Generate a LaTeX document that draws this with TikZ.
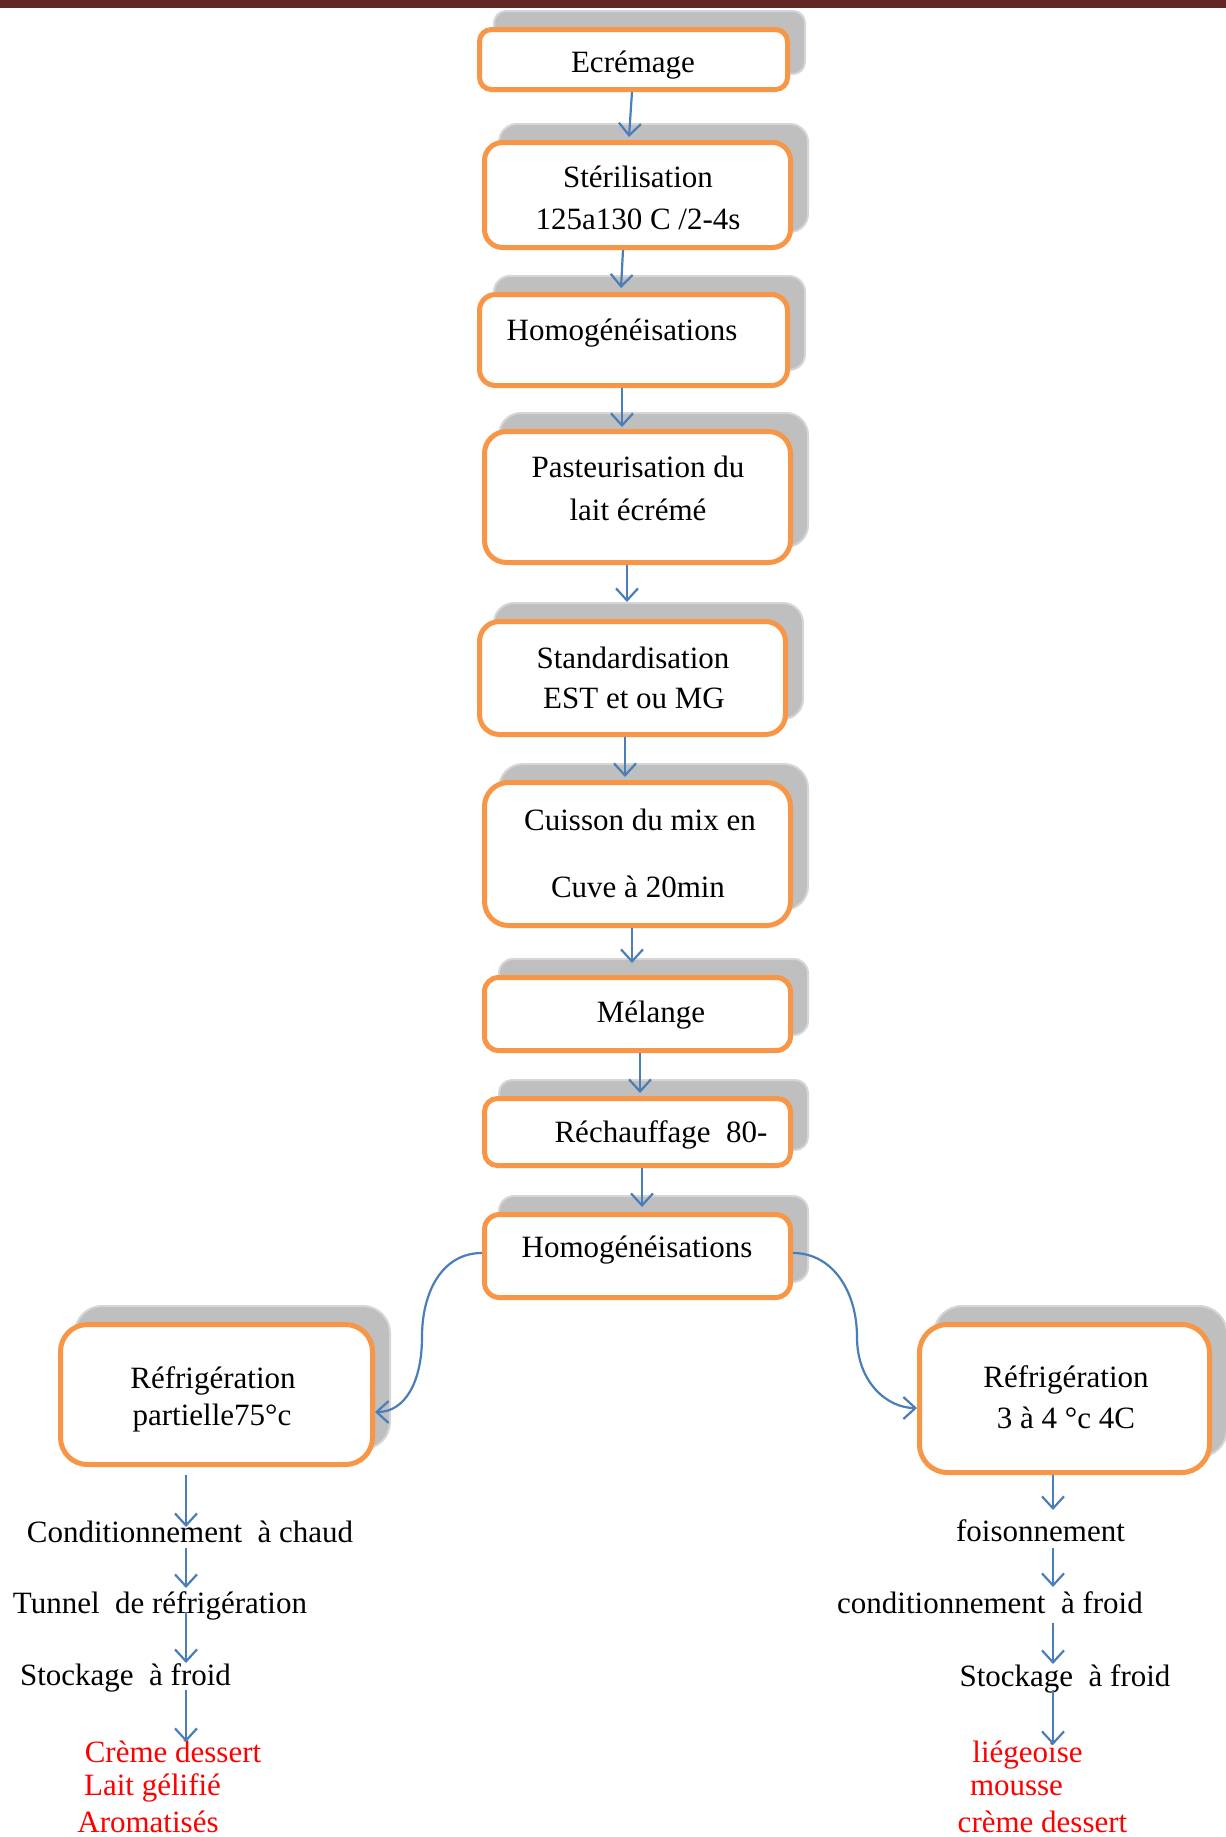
\documentclass[tikz,border=0pt]{standalone}
\usepackage{fontspec}
\setmainfont{Liberation Serif}
\usetikzlibrary{arrows.meta}
\definecolor{boxorange}{HTML}{F79646}
\definecolor{shadowgray}{HTML}{BFBFBF}
\definecolor{shadowedge}{HTML}{D6D6D6}
\definecolor{arrowblue}{HTML}{4A7EBB}
\definecolor{topbar}{HTML}{632523}
\definecolor{redtext}{HTML}{FF0000}
\tikzset{
  procbox/.style={draw=boxorange, fill=white, line width=5pt, inner sep=0pt},
  shadowbox/.style={draw=shadowedge, fill=shadowgray, line width=2pt, inner sep=0pt},
  txt/.style={font=\fontsize{31}{37}\selectfont, inner sep=0pt, anchor=base},
  redtxt/.style={txt, text=redtext},
  arr/.style={draw=arrowblue, line width=2.2pt, -{Straight Barb[length=12pt, width=22pt]}},
}
\newcommand\mkbox[6]{%
  \node[shadowbox, rounded corners=#6, minimum width=#4-2, minimum height=#5-2] (#1s) at (#2+16,#3-17) {};
  \node[procbox, rounded corners=#6, minimum width=#4-5, minimum height=#5-5] (#1) at (#2,#3) {};}
\begin{document}
\begin{tikzpicture}[x=1pt, y=-1pt]
\useasboundingbox (0,0) rectangle (1226,1837);
\fill[white] (0,0) rectangle (1226,1837);
\fill[topbar] (0,0) rectangle (1226,8);

% boxes: name, cx, cy, w, h, radius
\mkbox{b1}{633.5}{59.5}{313}{65}{12}
\mkbox{b2}{637.5}{195}{311}{110}{18}
\mkbox{b3}{633.5}{340}{313}{96}{16}
\mkbox{b4}{637.5}{497}{311}{136}{22}
\mkbox{b5}{632.5}{678}{311}{118}{20}
\mkbox{b6}{637.5}{854}{311}{148}{24}
\mkbox{b7}{637.5}{1014}{311}{78}{14}
\mkbox{b8}{637.5}{1132}{311}{72}{13}
\mkbox{b9}{637.5}{1256}{311}{88}{15}
\mkbox{b10}{216.5}{1394.5}{317}{145}{27}
\mkbox{b11}{1064.5}{1398.5}{295}{153}{28}

% box texts
\node[txt] (t1) at (633,72) {Ecrémage};
\node[txt] (t2a) at (638,187) {Stérilisation};
\node[txt] (t2b) at (638,229) {125a130 C /2-4s};
\node[txt] (t3) at (622,340) {Homogénéisations};
\node[txt] (t4a) at (638,477) {Pasteurisation du};
\node[txt] (t4b) at (638,520) {lait écrémé};
\node[txt] (t5a) at (633,668) {Standardisation};
\node[txt] (t5b) at (634,708) {EST et ou MG};
\node[txt] (t6a) at (640,830) {Cuisson du mix en};
\node[txt] (t6b) at (638,897) {Cuve à 20min};
\node[txt] (t7) at (651,1022) {Mélange};
\node[txt] (t8) at (661,1142) {Réchauffage\ \ 80-};
\node[txt] (t9) at (637,1257) {Homogénéisations};
\node[txt] (t10a) at (213,1388) {Réfrigération};
\node[txt] (t10b) at (212,1425) {partielle75°c};
\node[txt] (t11a) at (1066,1387) {Réfrigération};
\node[txt] (t11b) at (1066,1428) {3 à 4 °c 4C};

% lower left texts
\node[txt] (ll1) at (190,1542) {Conditionnement\ \ à chaud};
\node[txt] (ll2) at (160,1613) {Tunnel\ \ de réfrigération};
\node[txt] (ll3) at (125.5,1685) {Stockage\ \ à froid};
\node[redtxt] (lr1) at (173,1762) {Crème dessert};
\node[redtxt] (lr2) at (152.5,1795) {Lait gélifié};
\node[redtxt] (lr3) at (148,1832) {Aromatisés};

% lower right texts
\node[txt] (rl1) at (1040.5,1541) {foisonnement};
\node[txt] (rl2) at (990,1613) {conditionnement\ \ à froid};
\node[txt] (rl3) at (1065,1686) {Stockage\ \ à froid};
\node[redtxt] (rr1) at (1027.5,1762) {liégeoise};
\node[redtxt] (rr2) at (1016.5,1795) {mousse};
\node[redtxt] (rr3) at (1042.5,1832) {crème dessert};

% main chain arrows
\draw[arr] ([xshift=-1.5pt]b1.south) -- ([xshift=-8.5pt,yshift=3pt]b2.north);
\draw[arr] ([xshift=-14.5pt]b2.south) -- ([xshift=-12.5pt,yshift=4pt]b3.north);
\draw[arr] ([xshift=-11.5pt]b3.south) -- ([xshift=-15.5pt,yshift=2pt]b4.north);
\draw[arr] ([xshift=-10.5pt]b4.south) -- ([xshift=-5.5pt,yshift=17pt]b5.north);
\draw[arr] ([xshift=-7.5pt]b5.south) -- ([xshift=-12.5pt,yshift=3pt]b6.north);
\draw[arr] ([xshift=-5.5pt]b6.south) -- ([xshift=-5.5pt,yshift=12pt]b7.north);
\draw[arr] ([xshift=2.5pt]b7.south) -- ([xshift=2.5pt,yshift=3pt]b8.north);
\draw[arr] ([xshift=4.5pt]b8.south) -- ([xshift=4.5pt,yshift=5pt]b9.north);

% curved branches
\coordinate (cl) at (422,1337);
\coordinate (cr) at (857,1337);
\draw[arr] ([yshift=3pt]b9.west) .. controls +(-40,0) and +(0,-45) .. (cl)
  .. controls +(0,45) and +(30,0) .. ([yshift=-17.5pt]b10.east);
\draw[arr] ([yshift=3pt]b9.east) .. controls +(40,0) and +(0,-45) .. (cr)
  .. controls +(0,45) and +(-30,0) .. ([yshift=-9.5pt]b11.west);

% lower left arrows
\coordinate (lA0) at (186,1475);
\coordinate (lA1) at (186,1527);
\coordinate (lB0) at (186,1548);
\coordinate (lB1) at (186,1588);
\coordinate (lC0) at (186,1612);
\coordinate (lC1) at (186,1663);
\coordinate (lD0) at (186,1690);
\coordinate (lD1) at (186,1742);
\draw[arr] (lA0) -- (lA1);
\draw[arr] (lB0) -- (lB1);
\draw[arr] (lC0) -- (lC1);
\draw[arr] (lD0) -- (lD1);

% lower right arrows
\coordinate (rA0) at (1053,1475);
\coordinate (rA1) at (1053,1510);
\coordinate (rB0) at (1053,1548);
\coordinate (rB1) at (1053,1587);
\coordinate (rC0) at (1053,1623);
\coordinate (rC1) at (1053,1664);
\coordinate (rD0) at (1053,1690);
\coordinate (rD1) at (1053,1745);
\draw[arr] (rA0) -- (rA1);
\draw[arr] (rB0) -- (rB1);
\draw[arr] (rC0) -- (rC1);
\draw[arr] (rD0) -- (rD1);
\end{tikzpicture}
\end{document}
